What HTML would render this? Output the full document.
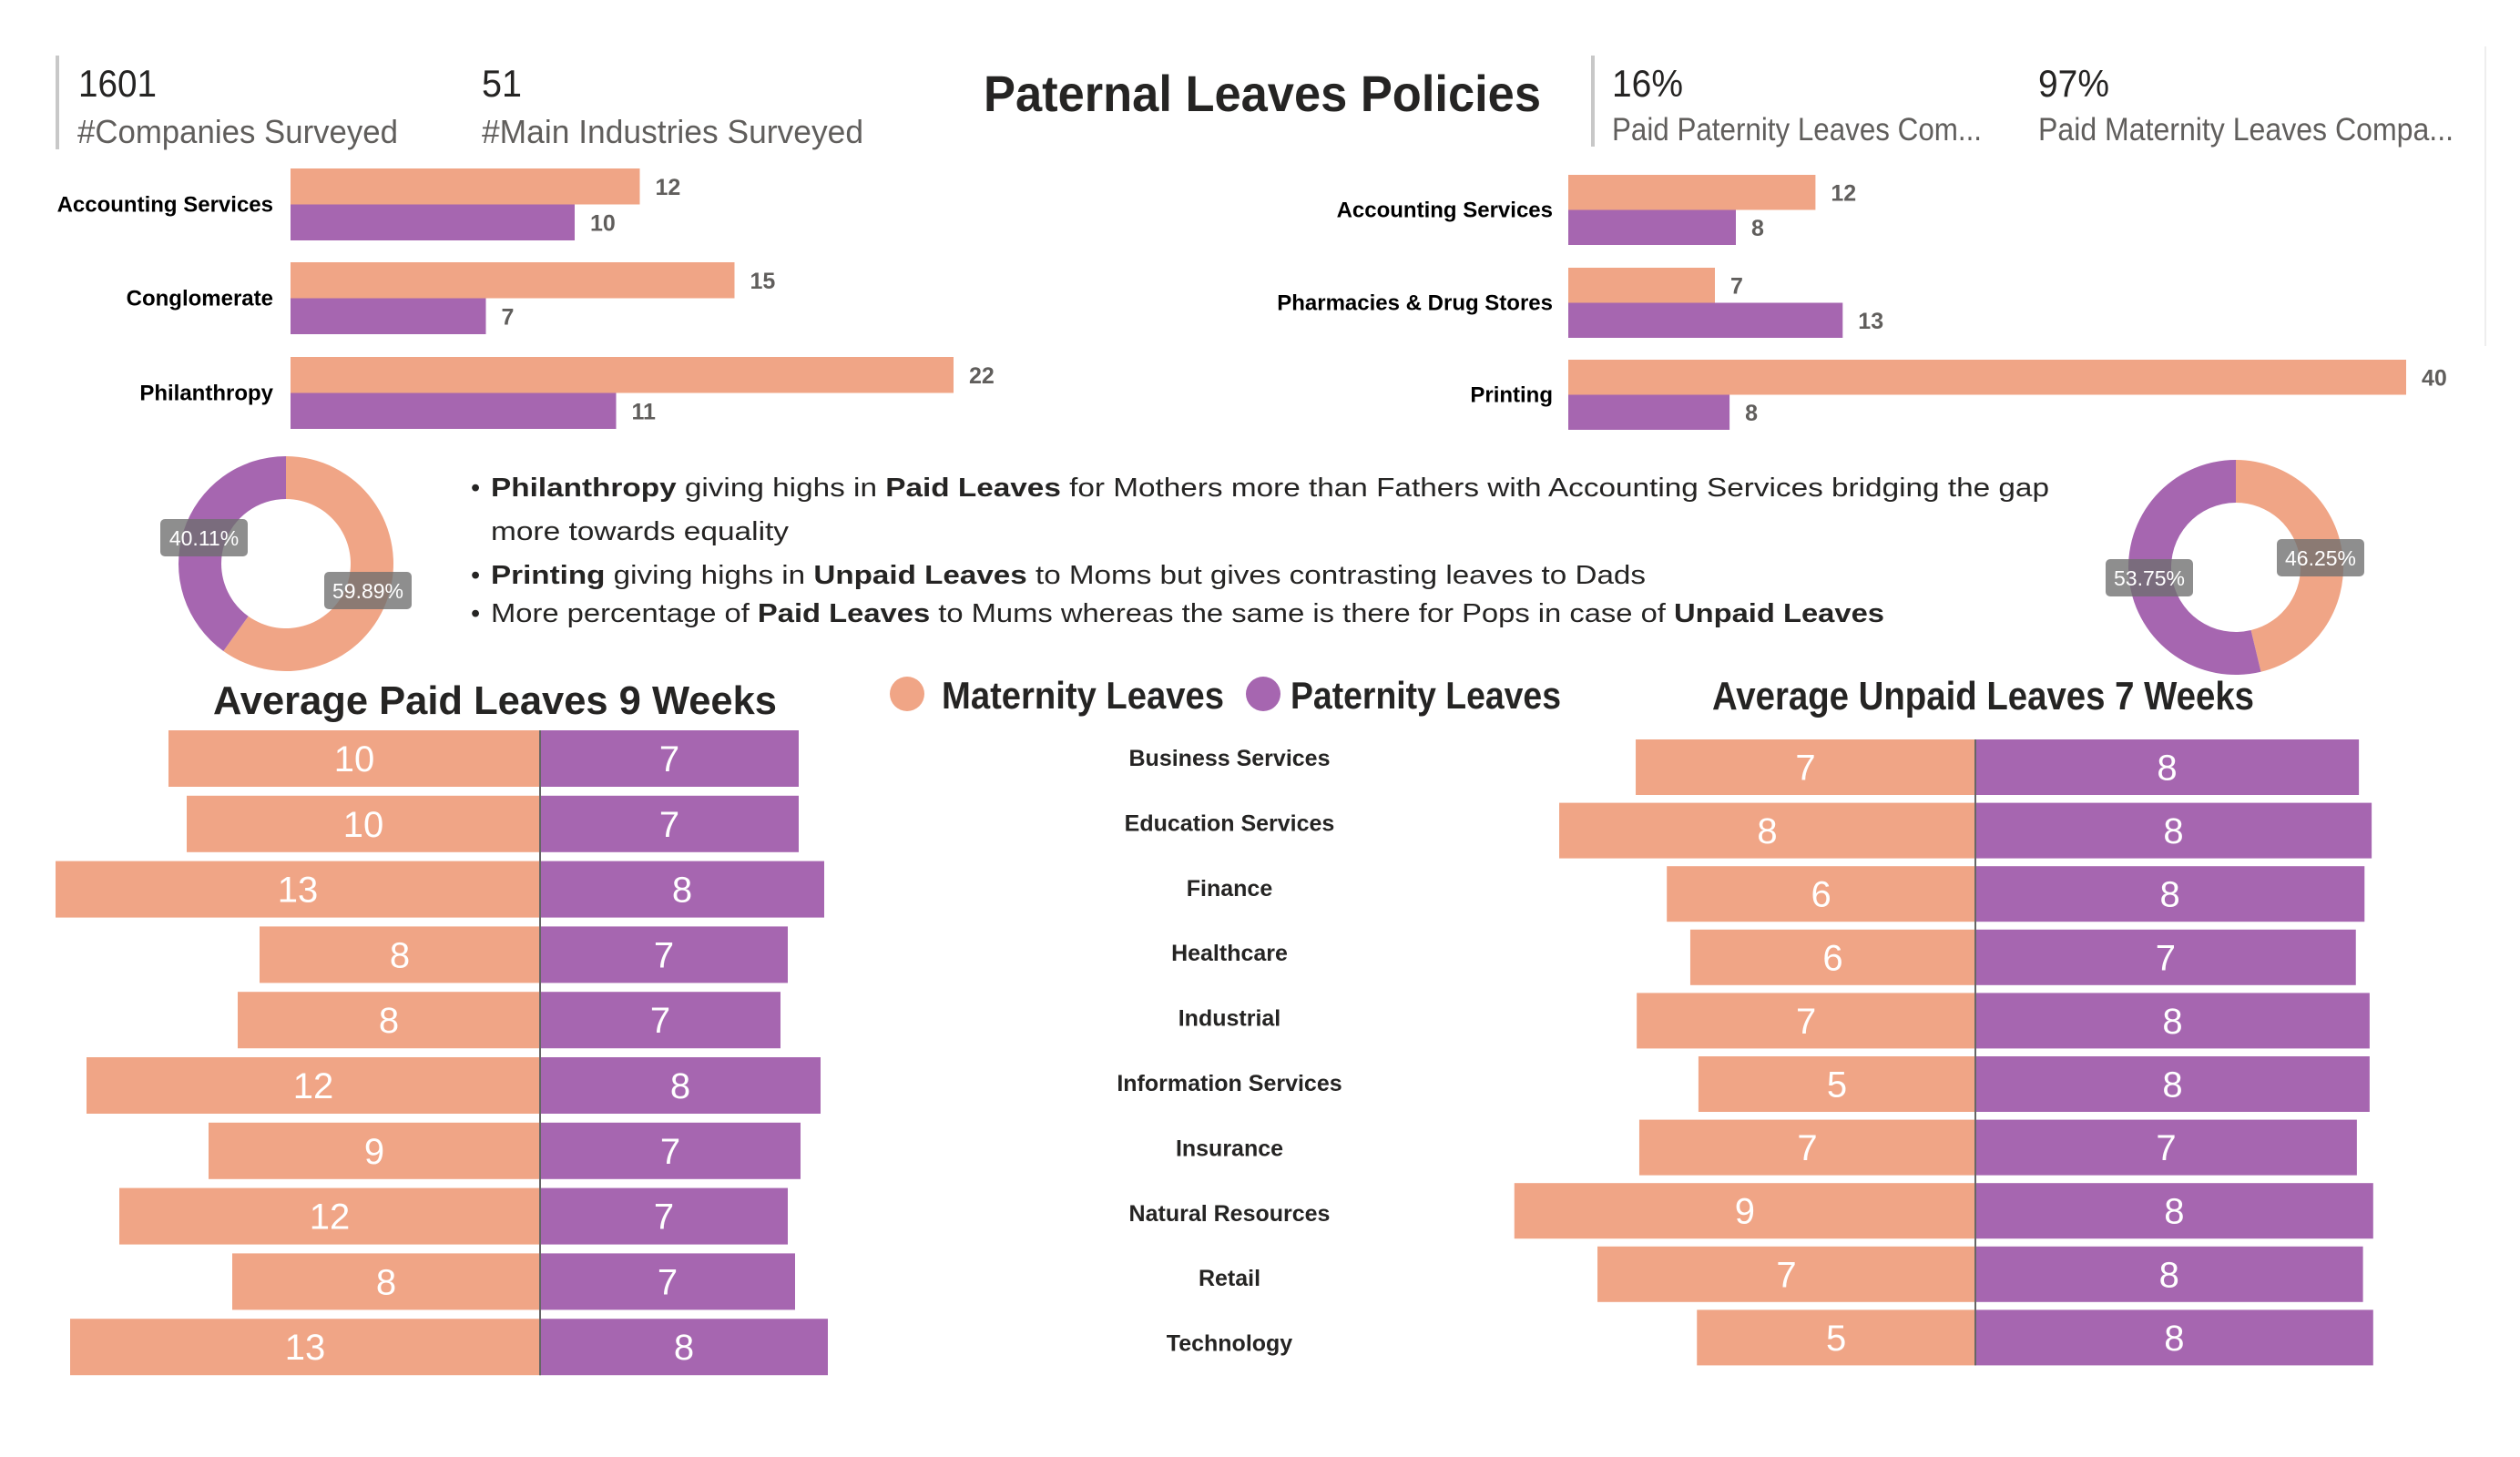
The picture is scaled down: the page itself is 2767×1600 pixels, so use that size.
<!DOCTYPE html>
<html><head><meta charset="utf-8"><style>
html,body{margin:0;padding:0;background:#fff;}
svg{display:block;font-family:"Liberation Sans",sans-serif;}
</style></head><body>
<svg id="root" width="2767" height="1600" viewBox="0 0 2767 1600" xmlns="http://www.w3.org/2000/svg">
<g>
<line x1="63" y1="61" x2="63" y2="164" stroke="#c8c8c8" stroke-width="4"/>
<text x="86" y="106" font-size="42" fill="#252423" textLength="86" lengthAdjust="spacingAndGlyphs">1601</text>
<text x="85" y="157" font-size="36" fill="#605e5c" textLength="352" lengthAdjust="spacingAndGlyphs">#Companies Surveyed</text>
<text x="529" y="106" font-size="42" fill="#252423" textLength="44" lengthAdjust="spacingAndGlyphs">51</text>
<text x="529" y="157" font-size="36" fill="#605e5c" textLength="419" lengthAdjust="spacingAndGlyphs">#Main Industries Surveyed</text>
</g>
<text x="1080" y="122" font-size="56" font-weight="bold" fill="#252423" textLength="612" lengthAdjust="spacingAndGlyphs">Paternal Leaves Policies</text>
<g>
<line x1="1749" y1="61" x2="1749" y2="161" stroke="#c8c8c8" stroke-width="4"/>
<line x1="2729" y1="51" x2="2729" y2="380" stroke="#eeeeee" stroke-width="2"/>
<text x="1770" y="106" font-size="42" fill="#252423" textLength="78" lengthAdjust="spacingAndGlyphs">16%</text>
<text x="1770" y="154" font-size="35" fill="#605e5c" textLength="406" lengthAdjust="spacingAndGlyphs">Paid Paternity Leaves Com...</text>
<text x="2238" y="106" font-size="42" fill="#252423" textLength="78" lengthAdjust="spacingAndGlyphs">97%</text>
<text x="2238" y="154" font-size="35" fill="#605e5c" textLength="456" lengthAdjust="spacingAndGlyphs">Paid Maternity Leaves Compa...</text>
</g>
<g id="topLeft"></g>
<g id="topRight"></g>
<g id="donutL"></g>
<g id="donutR"></g>
<g font-size="29" fill="#252423">
<text x="517" y="545">•</text>
<text x="539" y="545" textLength="1711" lengthAdjust="spacingAndGlyphs"><tspan font-weight="bold">Philanthropy</tspan> giving highs in <tspan font-weight="bold">Paid Leaves</tspan> for Mothers more than Fathers with Accounting Services bridging the gap</text>
<text x="539" y="593" textLength="327" lengthAdjust="spacingAndGlyphs">more towards equality</text>
<text x="517" y="641">•</text>
<text x="539" y="641" textLength="1268" lengthAdjust="spacingAndGlyphs"><tspan font-weight="bold">Printing</tspan> giving highs in <tspan font-weight="bold">Unpaid Leaves</tspan> to Moms but gives contrasting leaves to Dads</text>
<text x="517" y="683">•</text>
<text x="539" y="683" textLength="1530" lengthAdjust="spacingAndGlyphs">More percentage of <tspan font-weight="bold">Paid Leaves</tspan> to Mums whereas the same is there for Pops in case of <tspan font-weight="bold">Unpaid Leaves</tspan></text>
</g>
<text x="234" y="784" font-size="44" font-weight="bold" fill="#252423" textLength="619" lengthAdjust="spacingAndGlyphs">Average Paid Leaves  9 Weeks</text>
<text x="1880" y="779" font-size="44" font-weight="bold" fill="#252423" textLength="595" lengthAdjust="spacingAndGlyphs">Average Unpaid Leaves  7 Weeks</text>
<g>
<circle cx="996" cy="762" r="19" fill="#F0A586"/>
<text x="1034" y="778" font-size="42" font-weight="bold" fill="#252423" textLength="310" lengthAdjust="spacingAndGlyphs">Maternity Leaves</text>
<circle cx="1387" cy="762" r="19" fill="#A666B0"/>
<text x="1417" y="778" font-size="42" font-weight="bold" fill="#252423" textLength="297" lengthAdjust="spacingAndGlyphs">Paternity Leaves</text>
</g>
<g id="butterflyL"></g>
<g id="butterflyR"></g>
<g id="catLabels"></g>
</svg>
<script>
const ORANGE = "#F0A586", PURPLE = "#A666B0";
// top-left chart
const topLeftCats = ["Accounting Services", "Conglomerate", "Philanthropy"];
const topLeftMat = [12, 15, 22];
const topLeftPat = [10, 7, 11];
const topLeftMatW = [11.8, 15.0, 22.4];
const topLeftPatW = [9.6, 6.6, 11.0];
// top-right chart
const topRightCats = ["Accounting Services", "Pharmacies & Drug Stores", "Printing"];
const topRightMat = [12, 7, 40];
const topRightPat = [8, 13, 8];
const topRightMatW = [11.8, 7.0, 40.0];
const topRightPatW = [8.0, 13.1, 7.7];
// donuts
const donutLeftVals = [59.89, 40.11];
const donutRightVals = [46.25, 53.75];
// butterflies
const industries = ["Business Services","Education Services","Finance","Healthcare","Industrial","Information Services","Insurance","Natural Resources","Retail","Technology"];
const paidMat = [10.2, 9.7, 13.3, 7.7, 8.3, 12.45, 9.1, 11.55, 8.45, 12.9];
const paidPat = [7.1, 7.1, 7.8, 6.8, 6.6, 7.7, 7.15, 6.8, 7.0, 7.9];
const unpaidMat = [6.66, 8.16, 6.05, 5.59, 6.64, 5.43, 6.59, 9.04, 7.41, 5.46];
const unpaidPat = [7.52, 7.77, 7.63, 7.46, 7.73, 7.73, 7.48, 7.8, 7.6, 7.8];

const NS = "http://www.w3.org/2000/svg";
function mk(parent, tag, attrs, txt){
  const e = document.createElementNS(NS, tag);
  for (const k in attrs) e.setAttribute(k, attrs[k]);
  if (txt !== undefined) e.textContent = txt;
  parent.appendChild(e); return e;
}

function topChart(gid, cats, mat, pat, matW, patW, x0, scale, y0s, barH, labelX){
  const g = document.getElementById(gid);
  const xs = v => x0 + v * scale;
  cats.forEach((c, i) => {
    const y = y0s[i];
    const r1 = mk(g, "rect", {x:x0, y:y, width:xs(matW[i])-x0, height:barH, fill:ORANGE});
    
    
    const r2 = mk(g, "rect", {x:x0, y:y+barH, width:xs(patW[i])-x0, height:barH, fill:PURPLE});
    
    
    const t1 = mk(g, "text", {x:xs(matW[i])+17, y:y+barH/2+9, "font-size":25, "font-weight":"bold", fill:"#605e5c"}, mat[i]);
    
    
    const t2 = mk(g, "text", {x:xs(patW[i])+17, y:y+barH*1.5+9, "font-size":25, "font-weight":"bold", fill:"#605e5c"}, pat[i]);
    
    
    const lab = mk(g, "text", {x:labelX, y:y+barH+8, "font-size":24, "font-weight":"bold", fill:"#000", "text-anchor":"end"}, c);
    
    
  });
}
topChart("topLeft", topLeftCats, topLeftMat, topLeftPat, topLeftMatW, topLeftPatW, 319, 32.5, [185,288,392], 39.5, 300);
topChart("topRight", topRightCats, topRightMat, topRightPat, topRightMatW, topRightPatW, 1722, 23.0, [192,294,395], 38.5, 1705);

function donut(gid, vals, cx, cy, R, r, labels){
  const g = document.getElementById(gid);
  const total = vals.reduce((a,b)=>a+b,0);
  let a0 = -Math.PI/2;
  const cols = [ORANGE, PURPLE];
  vals.forEach((v,i)=>{
    const a1 = a0 + v/total*2*Math.PI;
    const large = (a1-a0) > Math.PI ? 1 : 0;
    const p = (a,rr)=>[cx+rr*Math.cos(a), cy+rr*Math.sin(a)];
    const [x1,y1]=p(a0,R),[x2,y2]=p(a1,R),[x3,y3]=p(a1,r),[x4,y4]=p(a0,r);
    const d = `M${x1},${y1} A${R},${R} 0 ${large} 1 ${x2},${y2} L${x3},${y3} A${r},${r} 0 ${large} 0 ${x4},${y4} Z`;
    const s = mk(g, "path", {d:d, fill:cols[i]});
    
    
    a0 = a1;
  });
  labels.forEach((L,i)=>{
    const b = mk(g, "rect", {x:L[0], y:L[1], width:96, height:41, rx:5, fill:"rgba(110,110,110,0.78)"});
    
    
    const t = mk(g, "text", {x:L[0]+48, y:L[1]+29, "font-size":23, fill:"#fff", "text-anchor":"middle"}, vals[i].toFixed(2)+"%");
    
    
  });
}
donut("donutL", donutLeftVals, 314, 619, 118, 71, [[356,628],[176,570]]);
donut("donutR", donutRightVals, 2455, 623, 118, 71, [[2500,592],[2312,614]]);

function butterfly(gid, mat, pat, axisX, scale, top, pitch, barH){
  const g = document.getElementById(gid);
  mat.forEach((v,i)=>{
    const y = top + i*pitch;
    const wm = v*scale, wp = pat[i]*scale;
    const r1 = mk(g, "rect", {x:axisX-wm, y:y, width:wm, height:barH, fill:ORANGE});
    
    
    const r2 = mk(g, "rect", {x:axisX, y:y, width:wp, height:barH, fill:PURPLE});
    
    
    const t1 = mk(g, "text", {x:axisX-wm/2, y:y+barH/2+14, "font-size":40, fill:"#fff", "text-anchor":"middle"}, Math.round(v));
    
    
    const t2 = mk(g, "text", {x:axisX+wp/2, y:y+barH/2+14, "font-size":40, fill:"#fff", "text-anchor":"middle"}, Math.round(pat[i]));
    
    
  });
  const ax = mk(g, "line", {x1:axisX, y1:top, x2:axisX, y2:top+(mat.length-1)*pitch+barH, stroke:"#666", "stroke-width":2});
  
  
}
butterfly("butterflyL", paidMat, paidPat, 593, 40, 802, 71.8, 62);
butterfly("butterflyR", unpaidMat, unpaidPat, 2169, 56, 812, 69.6, 61);

const cg = document.getElementById("catLabels");
industries.forEach((c,i)=>{
  const t = mk(cg, "text", {x:1350, y:841+i*71.4, "font-size":25, "font-weight":"bold", fill:"#252423", "text-anchor":"middle"}, c);
  
  
});
</script>
</body></html>
